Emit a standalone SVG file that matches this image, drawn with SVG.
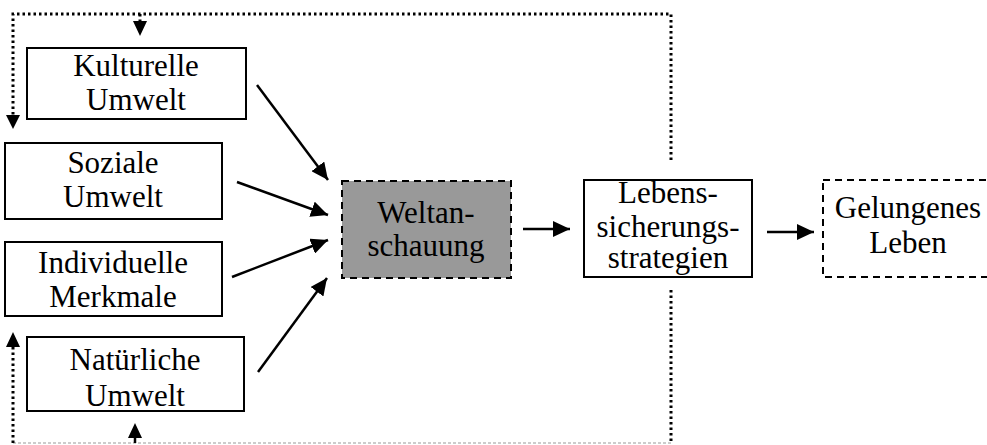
<svg xmlns="http://www.w3.org/2000/svg" width="987" height="445" viewBox="0 0 987 445">
<style>
.box{fill:#fff;stroke:#000;stroke-width:2}
.dash{stroke-dasharray:7 5}
text{font-family:"Times New Roman","Liberation Serif","DejaVu Serif",serif;font-size:31px;fill:#000;text-anchor:middle}
.arr{stroke:#000;stroke-width:2.5;fill:none;marker-end:url(#ah)}
.dot{stroke:#000;stroke-width:3;fill:none;stroke-dasharray:2.5 3}
</style>
<defs>
<marker id="ah" markerUnits="userSpaceOnUse" markerWidth="18" markerHeight="16" refX="17" refY="8" orient="auto">
<path d="M0,0 L17,8 L0,16 Z" fill="#000"/>
</marker>
</defs>
<g id="connectors">
<path class="dot" d="M671,160 V14 H13 V118"/>
<path d="M6,115 L13,129 L20,115 Z" fill="#000"/>
<path class="dot" d="M140,14 V24"/>
<path d="M133,21 L140,36 L147,21 Z" fill="#000"/>
<path class="dot" d="M671,290 V443"/>
<line x1="13" y1="443" x2="671" y2="443" stroke="#999" stroke-width="1.2" stroke-dasharray="3 2"/>
<path class="dot" d="M13,443 V344"/>
<path d="M6,347 L13,332 L20,347 Z" fill="#000"/>
<line x1="135" y1="443" x2="135" y2="434" stroke="#000" stroke-width="2.5"/>
<path d="M128,438 L135,423 L142,438 Z" fill="#000"/>
<line class="arr" x1="257" y1="85" x2="328" y2="180"/>
<line class="arr" x1="237" y1="182" x2="328" y2="215"/>
<line class="arr" x1="232" y1="277" x2="328" y2="240"/>
<line class="arr" x1="258" y1="372" x2="327" y2="278"/>
<line class="arr" x1="523" y1="229" x2="570" y2="229"/>
<line class="arr" x1="767" y1="232" x2="814" y2="232"/>
</g>
<g id="kulturelle">
<rect class="box" x="27" y="48" width="219" height="71"/>
<text x="136" y="76">Kulturelle</text>
<text x="136" y="110">Umwelt</text>
</g>
<g id="soziale">
<rect class="box" x="5" y="143" width="217" height="76"/>
<text x="113" y="173">Soziale</text>
<text x="113" y="207">Umwelt</text>
</g>
<g id="individuelle">
<rect class="box" x="5" y="242" width="217" height="74"/>
<text x="113" y="273">Individuelle</text>
<text x="113" y="307">Merkmale</text>
</g>
<g id="natuerliche">
<rect class="box" x="27" y="337" width="217" height="74"/>
<text x="135" y="370">Natürliche</text>
<text x="135" y="406">Umwelt</text>
</g>
<g id="weltanschauung">
<rect class="box dash" x="342" y="181" width="169" height="97" style="fill:#999"/>
<text x="426" y="223">Weltan-</text>
<text x="426" y="256">schauung</text>
</g>
<g id="lebenssicherung">
<rect class="box" x="584" y="180" width="168" height="97"/>
<text x="668" y="203">Lebens-</text>
<text x="668" y="237">sicherungs-</text>
<text x="668" y="268">strategien</text>
</g>
<g id="gelungenes">
<rect class="box dash" x="823" y="180" width="172" height="97"/>
<text x="908" y="218">Gelungenes</text>
<text x="908" y="253">Leben</text>
</g>
</svg>
